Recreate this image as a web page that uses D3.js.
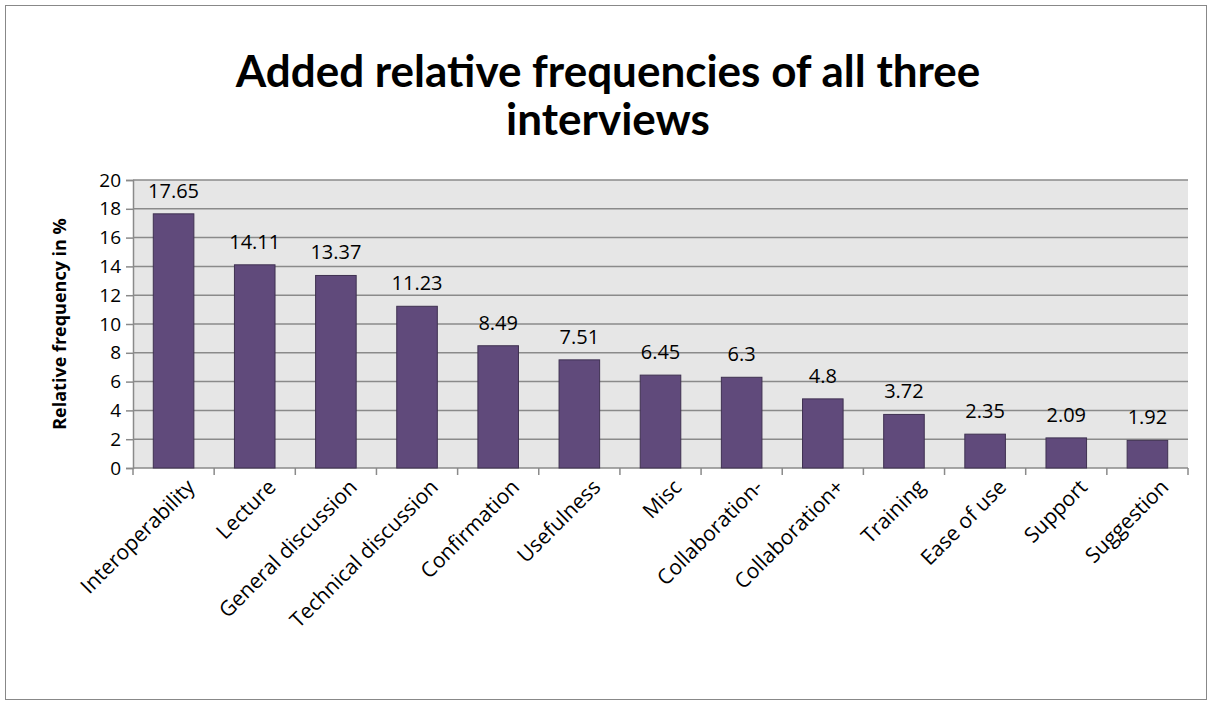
<!DOCTYPE html>
<html>
<head>
<meta charset="utf-8">
<script src="https://cdn.jsdelivr.net/npm/d3@7"></script>
<style>
  body { margin: 0; background: #fff; }
  text { font-family: 'Open Sans', 'Noto Sans', sans-serif; fill: #000; }
</style>
</head>
<body>
<div id="chart"></div>
<script>
const categories = ['Interoperability', 'Lecture', 'General discussion', 'Technical discussion',
  'Confirmation', 'Usefulness', 'Misc', 'Collaboration-', 'Collaboration+', 'Training',
  'Ease of use', 'Support', 'Suggestion'];
const values = [17.65, 14.11, 13.37, 11.23, 8.49, 7.51, 6.45, 6.3, 4.8, 3.72, 2.35, 2.09, 1.92];
const yTicks = [0, 2, 4, 6, 8, 10, 12, 14, 16, 18, 20];
const titleLines = ['Added relative frequencies of all three', 'interviews'];
const yTitle = 'Relative frequency in %';

const width = 1212, height = 704;
const margin = {left: 133, right: 24, top: 180, bottom: 236};
const innerW = width - margin.left - margin.right;
const innerH = height - margin.top - margin.bottom;

const svg = d3.select('#chart').append('svg')
  .attr('width', width).attr('height', height);

// outer frame
svg.append('rect')
  .attr('x', 5.5).attr('y', 5.5)
  .attr('width', width - 11).attr('height', height - 10)
  .attr('fill', '#fff').attr('stroke', '#888').attr('stroke-width', 1);

svg.selectAll('text.title')
  .data(titleLines).enter()
  .append('text')
  .attr('class', 'title')
  .attr('x', 608)
  .attr('y', (d, i) => 87 + i * 48)
  .attr('text-anchor', 'middle')
  .style('font-family', 'Lato, sans-serif')
  .style('font-weight', 'bold')
  .style('font-size', '44px')
  .text(d => d);

const x = d3.scaleBand().domain(categories).range([0, innerW]).paddingInner(0.5).paddingOuter(0.25);
const y = d3.scaleLinear().domain([0, 20]).range([innerH, 0]);

const g = svg.append('g').attr('transform', 'translate(' + margin.left + ',' + margin.top + ')');

g.append('rect')
  .attr('width', innerW).attr('height', innerH)
  .attr('fill', '#e6e6e6');

// gridlines
g.append('g').selectAll('line')
  .data(yTicks.filter(d => d > 0)).enter()
  .append('line')
  .attr('x1', 0).attr('x2', innerW)
  .attr('y1', d => y(d)).attr('y2', d => y(d))
  .attr('stroke', '#8a8a8a').attr('stroke-width', 1.5);

const axisY = g.append('g')
  .call(d3.axisLeft(y).tickValues(yTicks).tickSize(7).tickPadding(5));
axisY.select('.domain').attr('stroke', '#8a8a8a').attr('stroke-width', 1.5);
axisY.selectAll('.tick line').attr('stroke', '#8a8a8a').attr('stroke-width', 1.5);
axisY.selectAll('.tick text')
  .style('font-size', '19px').attr('fill', '#000');

// x axis with ticks on category boundaries
const step = x.step();
const axisX = g.append('g').attr('transform', 'translate(0,' + innerH + ')');
axisX.append('line')
  .attr('x1', 0).attr('x2', innerW)
  .attr('stroke', '#8a8a8a').attr('stroke-width', 1.5);
axisX.selectAll('line.tick')
  .data(d3.range(categories.length + 1)).enter()
  .append('line')
  .attr('class', 'tick')
  .attr('x1', i => i * step).attr('x2', i => i * step)
  .attr('y1', 0).attr('y2', 7)
  .attr('stroke', '#8a8a8a').attr('stroke-width', 1.5);
axisX.selectAll('text')
  .data(categories).enter()
  .append('text')
  .attr('text-anchor', 'end')
  .attr('transform', d => 'translate(' + (x(d) + x.bandwidth() / 2 + 12) + ',10) rotate(-45)')
  .attr('dy', '0.7em')
  .style('font-size', '21px')
  .text(d => d);

// bars
g.selectAll('rect.bar')
  .data(values).enter()
  .append('rect')
  .attr('class', 'bar')
  .attr('x', (d, i) => x(categories[i]))
  .attr('y', d => y(d))
  .attr('width', x.bandwidth())
  .attr('height', d => innerH - y(d))
  .attr('fill', '#604a7b')
  .attr('stroke', '#3f3151').attr('stroke-width', 1);

g.selectAll('text.val')
  .data(values).enter()
  .append('text')
  .attr('class', 'val')
  .attr('x', (d, i) => x(categories[i]) + x.bandwidth() / 2)
  .attr('y', d => y(d) - 16)
  .attr('text-anchor', 'middle')
  .style('font-size', '20px')
  .text(d => d);

svg.append('text')
  .attr('transform', 'translate(66,' + (margin.top + innerH / 2) + ') rotate(-90)')
  .attr('text-anchor', 'middle')
  .style('font-weight', 'bold')
  .style('font-size', '18px')
  .text(yTitle);
</script>
</body>
</html>
